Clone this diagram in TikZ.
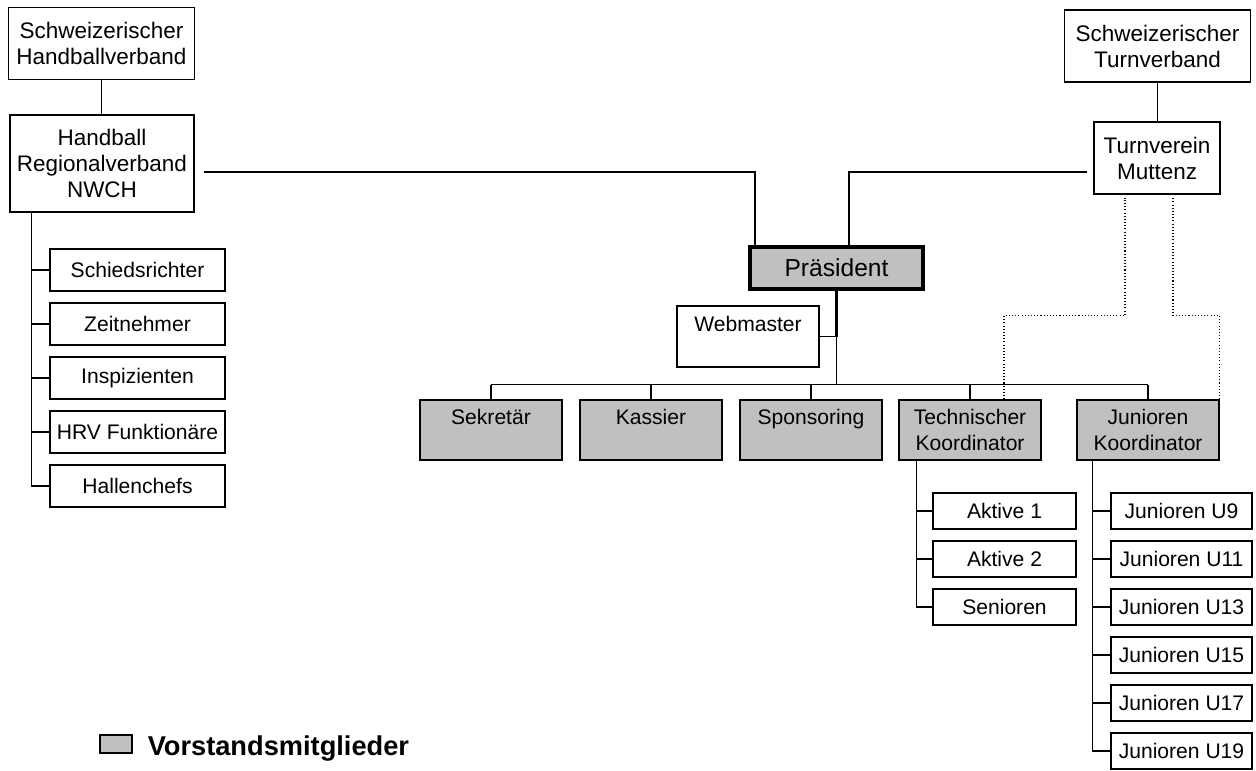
\documentclass[tikz,border=0pt]{standalone}
\usepackage{fontspec}
\setmainfont{Liberation Sans}
\usetikzlibrary{calc, positioning}
\definecolor{boardGray}{RGB}{192, 192, 192}

\begin{document}
\begin{tikzpicture}[
    x = 0.02cm, y = -0.02cm,
    font = \fontsize{12}{14.5}\selectfont,
    every node/.style = {inner sep = 1pt, align = center},
    box/.style = {draw, line width = 0.75pt, fill = white},
    club/.style = {box, font = \fontsize{12.8}{14.8}\selectfont},
    board/.style = {box, fill = boardGray, minimum width = 2.84cm,
        minimum height = 1.2cm},
    sub/.style = {box, minimum height = 0.72cm},
    link/.style = {line width = 0.75pt},
    loose/.style = {line width = 0.7pt, dash pattern = on 0.6pt off 1.2pt}
  ]
  \useasboundingbox (0,0) rectangle (1256,770);

  % Verbaende
  \node[club, minimum width=3.72cm, minimum height=1.44cm] (SHV) at (101.5,43.5) {Schweizerischer\\Handballverband};
  \node[club, minimum width=3.68cm, minimum height=1.94cm] (HRV) at (102,163.5) {Handball\\Regionalverband\\NWCH};
  \node[club, minimum width=3.72cm, minimum height=1.44cm] (STV) at (1157.5,46) {Schweizerischer\\Turnverband};
  \node[club, minimum width=2.52cm, minimum height=1.44cm] (TVM) at (1157,158) {Turnverein\\Muttenz};

  % Vorstand
  \node[board, line width=1.8pt, minimum width=3.46cm, minimum height=0.84cm,
    font=\fontsize{14}{16}\selectfont] (PRAES) at (836.5,268) {Präsident};
  \node[box, minimum width=2.84cm, minimum height=1.22cm] (WEB) at (748,336.5) {Webmaster\\~};
  \foreach \name/\x/\txt in {SEK/491/Sekretär\\~, KAS/651/Kassier\\~, SPO/811/Sponsoring\\~,
      TK/970/Technischer\\Koordinator, JK/1148/Junioren\\Koordinator}
    \node[board] (\name) at (\x,430) {\txt};

  % Untergruppen
  \foreach \txt [count=\i] in {Schiedsrichter, Zeitnehmer, Inspizienten, HRV Funktionäre, Hallenchefs}
    \node[sub, minimum width=3.5cm, minimum height=0.84cm] (H\i) at (137.5,{216+54*\i}) {\txt};
  \foreach \txt [count=\i] in {Aktive 1, Aktive 2, Senioren}
    \node[sub, minimum width=2.86cm] (T\i) at (1004.5,{463+48*\i}) {\txt};
  \foreach \txt [count=\i] in {U9, U11, U13, U15, U17, U19}
    \node[sub, line width=1pt, minimum width=2.82cm] (J\i) at (1181.5,{463+48*\i}) {Junioren \txt};

  % Legende
  \node[box, fill=boardGray, minimum width=0.64cm, minimum height=0.36cm] (LEG) at (116,744) {};
  \node[right=0.26cm of LEG, yshift=-0.1cm, font=\bfseries\fontsize{15.5}{18}\selectfont] (LEGTXT) {Vorstandsmitglieder};

  % Verbindungen
  \draw[link] (SHV.south) -- (SHV.south |- HRV.north);
  \draw[link] (STV.south) -- (STV.south |- TVM.north);
  \draw[link] ($(HRV.east)+(9,8.5)$) -| ($(PRAES.north)+(-81.5,0)$);
  \draw[link] ($(TVM.west)+(-6,14)$) -| ($(PRAES.north)+(12.5,0)$);

  \coordinate (bus) at ($(PRAES.south)+(0,94)$);
  \draw[link, line width=1.2pt] (PRAES.south) -- (PRAES.south |- WEB.east);
  \draw[link] (WEB.east) -- (PRAES.south |- WEB.east) -- (bus);
  \draw[link] (SEK.north |- bus) -- (JK.north |- bus);
  \foreach \n in {SEK, KAS, SPO, TK, JK}
    \draw[link] (\n.north) -- (\n.north |- bus);

  \coordinate (hrvline) at ($(HRV.south west)+(22,0)$);
  \foreach \i in {1,...,5}
    \draw[link] (hrvline) |- (H\i.west);
  \coordinate (tkline) at ($(TK.south west)+(18,0)$);
  \foreach \i in {1,...,3}
    \draw[link] (tkline) |- (T\i.west);
  \coordinate (jkline) at ($(JK.south west)+(16,0)$);
  \foreach \i in {1,...,6}
    \draw[link] (jkline) |- (J\i.west);

  \draw[loose] ($(TK.north)+(34,0)$) |- ($(TVM.south)+(-32,121)$) -- ($(TVM.south)+(-32,3)$);
  \draw[loose] (JK.north east) |- ($(TVM.south)+(16,121)$) -- ($(TVM.south)+(16,3)$);
\end{tikzpicture}
\end{document}
